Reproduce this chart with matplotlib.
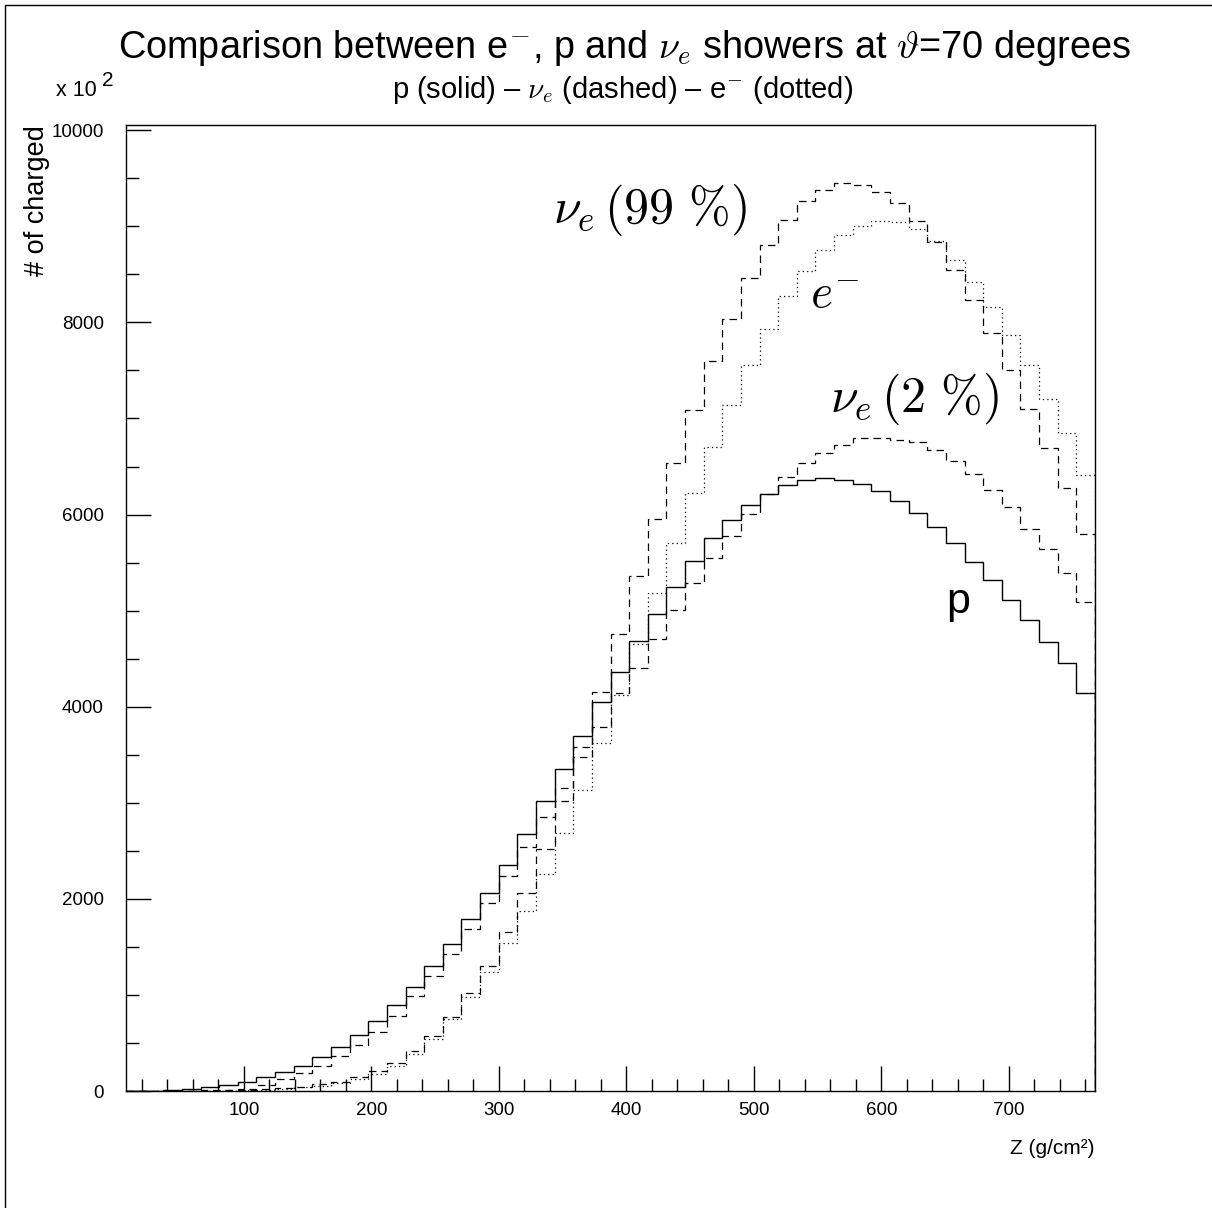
import matplotlib
matplotlib.use("Agg")
import matplotlib.pyplot as plt
import numpy as np
from matplotlib.patches import Rectangle

# ヒストグラムの範囲 (g/cm2) とビン数
z_lo, z_hi, n_bins = 7.5, 767.5, 52

# 各シャワーの荷電粒子数 (x 10^2)
p_solid = [0, 3, 10, 21, 38, 62, 94, 143, 195, 263, 357, 455, 586, 728, 895,
           1082, 1301, 1530, 1787, 2060, 2349, 2674, 3015, 3350, 3697, 4048,
           4363, 4683, 4960, 5248, 5518, 5754, 5942, 6095, 6209, 6306, 6358,
           6382, 6365, 6316, 6247, 6143, 6018, 5872, 5699, 5508, 5314, 5109,
           4901, 4669, 4450, 4138]
nue_99 = [0, 0, 0, 1, 3, 6, 10, 17, 28, 45, 69, 97, 149, 211, 295, 416, 572,
          773, 1023, 1300, 1660, 2057, 2515, 3018, 3576, 4150, 4752, 5359,
          5950, 6535, 7086, 7596, 8040, 8467, 8811, 9071, 9262, 9380, 9454,
          9432, 9358, 9248, 9056, 8838, 8550, 8238, 7891, 7503, 7100, 6690,
          6278, 5793]
nue_2 = [0, 0, 2, 4, 7, 10, 24, 59, 125, 191, 264, 364, 475, 617, 784, 985,
         1200, 1426, 1682, 1956, 2237, 2539, 2848, 3156, 3479, 3790, 4145,
         4398, 4700, 5005, 5283, 5543, 5779, 6004, 6209, 6393, 6532, 6636,
         6729, 6792, 6802, 6774, 6757, 6670, 6556, 6420, 6254, 6080, 5855,
         5640, 5394, 5092]
e_minus = [0, 0, 0, 1, 2, 5, 8, 13, 22, 38, 55, 80, 125, 180, 265, 380, 545,
           752, 975, 1237, 1540, 1878, 2258, 2681, 3129, 3618, 4121, 4648,
           5185, 5706, 6222, 6706, 7138, 7562, 7929, 8273, 8540, 8759, 8907,
           9001, 9056, 9050, 8977, 8848, 8647, 8422, 8162, 7874, 7555, 7208,
           6844, 6407]

edges = np.linspace(z_lo, z_hi, n_bins + 1)

plt.rcParams["font.family"] = ["Liberation Sans", "DejaVu Sans"]
plt.rcParams["mathtext.fontset"] = "cm"

W, H = 1212, 1208
fig = plt.figure(figsize=(W / 100, H / 100), dpi=100)
ax = fig.add_axes([126 / W, (H - 1091) / H, 969 / W, 966 / H])

# 外枠
fig.patches.append(Rectangle((5 / W, -0.01), 1.2, (1203 / H) + 0.01,
                             transform=fig.transFigure, fill=False,
                             edgecolor="black", lw=1.0))

ax.stairs(p_solid, edges, color="black", lw=1.0, ls="-")
ax.stairs(nue_99, edges, color="black", lw=0.9, ls=(0, (6, 4)))
ax.stairs(nue_2, edges, color="black", lw=0.9, ls=(0, (6, 4)))
ax.stairs(e_minus, edges, color="black", lw=0.9, ls=(0, (1, 2.5)))

ax.set_xlim(z_lo, z_hi)
ax.set_ylim(0, 10055)

ax.set_xticks(np.arange(100, 701, 100))
ax.set_xticks(np.arange(20, 761, 20), minor=True)
ax.set_yticks(np.arange(0, 10001, 2000))
ax.set_yticks(np.arange(0, 10001, 500), minor=True)
ax.tick_params(which="both", direction="in", top=False, right=False,
               labelsize=13.5, width=1.0, color="black")
ax.tick_params(which="major", length=18)
ax.tick_params(which="minor", length=9)
ax.tick_params(axis="x", pad=8)
ax.tick_params(axis="y", pad=16)
for s in ax.spines.values():
    s.set_linewidth(1.0)

ax.set_xlabel("Z (g/cm²)", fontsize=15, loc="right", labelpad=14)
ax.set_ylabel("# of charged", fontsize=19.5)
ax.yaxis.set_label_coords(-0.092, 1.0)
ax.yaxis.label.set_va("center")
ax.yaxis.label.set_ha("right")

fig.text(624 / W, 1 - 48 / H,
         r"Comparison between e$^{-}$, p and $\nu_e$ showers at $\vartheta$=70 degrees",
         ha="center", va="center", fontsize=27.3)
fig.text(623 / W, 1 - 90 / H,
         r"p (solid) – $\nu_e$ (dashed) – e$^{-}$ (dotted)",
         ha="center", va="center", fontsize=21)
fig.text(56 / W, 1 - 90 / H, "x 10", ha="left", va="center", fontsize=15.5)
fig.text(102 / W, 1 - 80 / H, "2", ha="left", va="center", fontsize=15)

ax.text(0.541, 0.912, r"$\nu_e\,(99\ \%)$", transform=ax.transAxes,
        ha="center", va="center", fontsize=36)
ax.text(0.732, 0.823, r"$e^{-}$", transform=ax.transAxes,
        ha="center", va="center", fontsize=34)
ax.text(0.814, 0.716, r"$\nu_e\,(2\ \%)$", transform=ax.transAxes,
        ha="center", va="center", fontsize=36)
ax.text(0.859, 0.506, "p", transform=ax.transAxes,
        ha="center", va="center", fontsize=31)

fig.savefig("out.png", dpi=100)
